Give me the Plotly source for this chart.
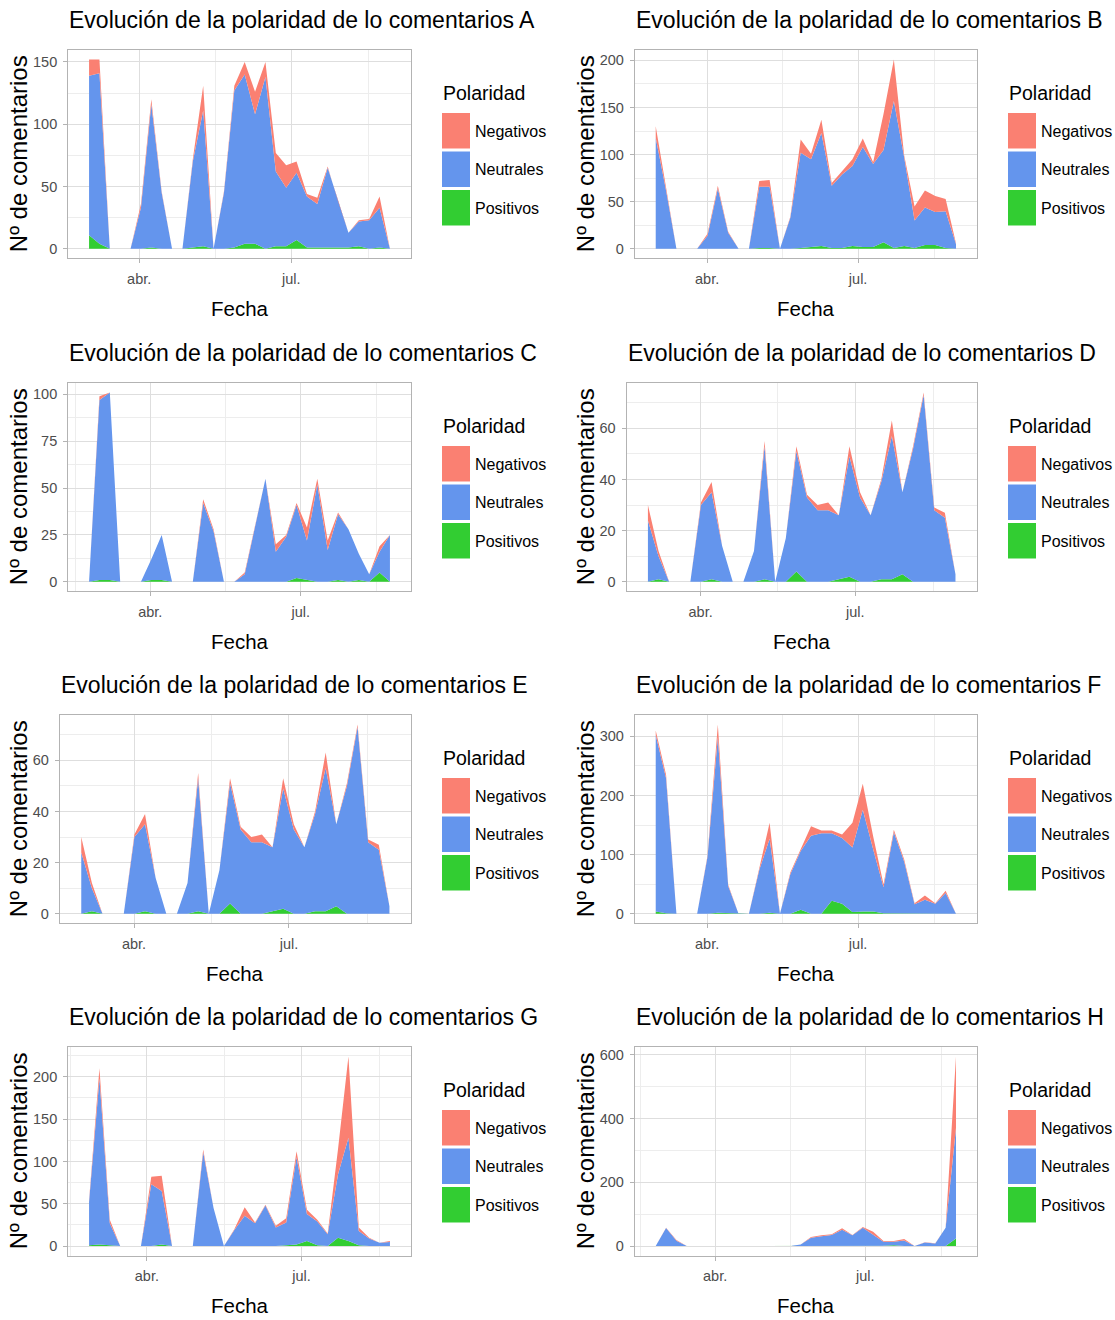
import pandas as pd
import plotly.graph_objects as go

# ---------------------------------------------------------------------------
# Datos: número de comentarios por periodo y polaridad para cada fuente (A-H)
# ---------------------------------------------------------------------------
PANELES = ["A", "B", "C", "D", "E", "F", "G", "H"]
POLARIDADES = ["Negativos", "Neutrales", "Positivos"]
N_PERIODOS = 30

# primer y último periodo de cada serie
FECHAS_INICIO = ["2017-03-02", "2017-03-01", "2017-02-23", "2017-03-01",
                 "2017-03-01", "2017-03-01", "2017-02-26", "2017-02-24"]
FECHAS_FIN = ["2017-08-29", "2017-08-29", "2017-08-24", "2017-08-29",
              "2017-08-29", "2017-08-29", "2017-08-22", "2017-08-25"]

A_neg = [13, 11, 0, 0, 0, 3, 4, 1, 0, 0, 2, 20, 0, 1, 4, 10, 18, 12, 15, 18, 9, 2, 5, 1, 0, 0, 1, 1, 9, 0]
A_neu = [128, 137, 0, 0, 0, 33, 115, 45, 0, 0, 69, 109, 0, 45, 126, 136, 104, 138, 60, 47, 54, 41, 35, 64, 37, 12, 20, 23, 32, 0]
A_pos = [11, 4, 0, 0, 0, 0, 1, 0, 0, 0, 1, 2, 0, 0, 1, 4, 4, 0, 2, 2, 7, 1, 1, 1, 1, 1, 2, 0, 1, 0]

B_neg = [12, 2, 0, 0, 0, 2, 3, 1, 0, 0, 6, 7, 0, 1, 14, 6, 14, 3, 3, 7, 9, 2, 38, 44, 2, 15, 18, 17, 13, 1]
B_neu = [118, 62, 0, 0, 0, 14, 64, 17, 0, 0, 65, 65, 0, 33, 101, 93, 120, 66, 78, 85, 106, 88, 98, 156, 94, 29, 40, 35, 39, 5]
B_pos = [0, 0, 0, 0, 0, 0, 0, 0, 0, 0, 1, 1, 0, 0, 1, 2, 3, 1, 1, 3, 2, 2, 7, 1, 3, 1, 4, 4, 1, 0]

C_neg = [0, 2, 0, 0, 0, 0, 0, 0, 0, 0, 0, 2, 1, 0, 0, 1, 1, 0, 4, 1, 1, 7, 3, 5, 1, 0, 0, 0, 3, 0]
C_neu = [0, 96, 100, 0, 0, 0, 11, 24, 0, 0, 0, 42, 27, 0, 0, 4, 29, 55, 16, 24, 39, 21, 52, 17, 35, 28, 14, 4, 11, 25]
C_pos = [0, 1, 1, 0, 0, 0, 1, 1, 0, 0, 0, 0, 0, 0, 0, 0, 0, 0, 0, 0, 2, 1, 0, 0, 1, 0, 1, 0, 5, 0]

D_neg = [6, 2, 0, 0, 0, 1, 4, 0, 0, 0, 0, 2, 0, 0, 2, 1, 2, 3, 0, 4, 2, 0, 1, 6, 0, 1, 1, 1, 2, 0]
D_neu = [24, 9, 0, 0, 0, 30, 34, 14, 0, 0, 12, 52, 0, 17, 47, 33, 28, 28, 25, 47, 33, 26, 38, 56, 32, 52, 73, 28, 25, 3]
D_pos = [0, 1, 0, 0, 0, 0, 1, 0, 0, 0, 0, 1, 0, 0, 4, 0, 0, 0, 1, 2, 0, 0, 1, 1, 3, 0, 0, 0, 0, 0]

E_neg = [6, 2, 0, 0, 0, 1, 4, 0, 0, 0, 0, 2, 0, 0, 2, 1, 2, 3, 0, 4, 2, 0, 1, 6, 0, 1, 1, 1, 2, 0]
E_neu = [24, 9, 0, 0, 0, 30, 34, 14, 0, 0, 12, 52, 0, 17, 47, 33, 28, 28, 25, 47, 33, 26, 38, 56, 32, 50, 73, 28, 25, 3]
E_pos = [0, 1, 0, 0, 0, 0, 1, 0, 0, 0, 0, 1, 0, 0, 4, 0, 0, 0, 1, 2, 0, 0, 1, 1, 3, 0, 0, 0, 0, 0]

F_neg = [8, 6, 0, 0, 0, 2, 21, 2, 0, 0, 1, 27, 0, 3, 3, 16, 5, 5, 6, 42, 44, 22, 5, 4, 4, 2, 7, 1, 4, 0]
F_neu = [298, 228, 0, 0, 0, 96, 297, 46, 0, 0, 74, 125, 0, 67, 99, 132, 136, 114, 111, 109, 172, 105, 44, 137, 88, 16, 24, 17, 35, 0]
F_pos = [4, 1, 0, 0, 0, 0, 2, 1, 0, 0, 0, 2, 0, 0, 7, 0, 0, 22, 17, 3, 4, 4, 1, 1, 0, 0, 0, 0, 0, 0]

G_neg = [2, 12, 4, 0, 0, 0, 9, 18, 0, 0, 0, 3, 0, 0, 1, 10, 1, 1, 2, 5, 7, 5, 2, 1, 30, 96, 4, 1, 0, 1]
G_neu = [51, 196, 26, 0, 0, 0, 73, 63, 0, 0, 0, 111, 45, 0, 19, 36, 27, 48, 22, 27, 103, 32, 28, 14, 75, 122, 17, 9, 4, 5]
G_pos = [1, 2, 1, 0, 0, 0, 0, 2, 0, 0, 0, 0, 0, 0, 0, 0, 0, 0, 0, 1, 2, 6, 1, 0, 10, 6, 1, 0, 0, 0]

H_neg = [0, 1, 2, 0, 0, 0, 0, 0, 0, 0, 0, 0, 0, 0, 0, 3, 3, 2, 5, 1, 2, 8, 2, 2, 4, 0, 1, 1, 0, 225]
H_neu = [0, 57, 17, 0, 0, 0, 0, 0, 0, 0, 0, 0, 0, 0, 5, 26, 31, 35, 51, 34, 58, 37, 13, 11, 18, 0, 11, 8, 58, 346]
H_pos = [0, 0, 0, 0, 0, 0, 0, 0, 0, 0, 0, 0, 0, 0, 0, 0, 0, 0, 0, 0, 0, 0, 1, 3, 0, 0, 0, 0, 0, 24]

# separación entre marcas del eje Y de cada panel
Y_DTICK = [50, 50, 25, 20, 20, 100, 50, 200]

# marcas del eje X
X_TICKS = ["2017-04-01", "2017-07-01"]
X_TICKTEXT = ["abr.", "jul."]
X_MINOR = ["2017-02-15", "2017-05-16 12:00", "2017-08-16"]

SERIES = {
    "A": (A_neg, A_neu, A_pos), "B": (B_neg, B_neu, B_pos),
    "C": (C_neg, C_neu, C_pos), "D": (D_neg, D_neu, D_pos),
    "E": (E_neg, E_neu, E_pos), "F": (F_neg, F_neu, F_pos),
    "G": (G_neg, G_neu, G_pos), "H": (H_neg, H_neu, H_pos),
}

# ---------------------------------------------------------------------------
# Estilo
# ---------------------------------------------------------------------------
W, H = 1115, 1320
COLORES = {"Negativos": "#FA8072", "Neutrales": "#6495ED", "Positivos": "#32CD32"}
FUENTE = "Liberation Sans, Arial, sans-serif"
GRIS_BORDE = "#B3B3B3"
GRIS_REJILLA = "#DEDEDE"
GRIS_MENOR = "#EDEDED"
GRIS_TEXTO = "#4D4D4D"

# geometría de la cuadrícula 4x2 (píxeles)
FILA_SUP = [50, 383, 715, 1047]
FILA_INF = [258.3, 591.3, 923.3, 1255.6]
PANEL_IZQ = [68.3, 635, 68.3, 626.7, 60, 635, 68.3, 635]
COL_DER = [410.7, 976.7]
LEYENDA_X = [442, 1008]
YTITULO_X = [18, 585]


def px(x):
    return x / W


def py(y):
    return 1 - y / H


fig = go.Figure()
anotaciones = []
formas = []

for k, letra in enumerate(PANELES):
    fila, col = divmod(k, 2)
    neg, neu, pos = SERIES[letra]
    fechas = pd.date_range(FECHAS_INICIO[k], FECHAS_FIN[k], periods=N_PERIODOS)
    sufijo = "" if k == 0 else str(k + 1)
    xa, ya = "x" + sufijo, "y" + sufijo

    # áreas apiladas: Positivos abajo, Neutrales en medio, Negativos arriba
    for nombre, valores in (("Positivos", pos), ("Neutrales", neu), ("Negativos", neg)):
        fig.add_trace(go.Scatter(
            x=fechas, y=valores, name=nombre, stackgroup="g" + letra,
            mode="lines", line=dict(width=0, color=COLORES[nombre]),
            fillcolor=COLORES[nombre], xaxis=xa, yaxis=ya, showlegend=False,
        ))

    total = [a + b + c for a, b, c in zip(neg, neu, pos)]
    ymax = max(total)
    span = fechas[-1] - fechas[0]
    x_rango = [fechas[0] - 0.069 * span, fechas[-1] + 0.069 * span]

    izq, der = PANEL_IZQ[k], COL_DER[col]
    sup, inf = FILA_SUP[fila], FILA_INF[fila]

    eje_x = dict(
        domain=[px(izq), px(der)], anchor=ya, type="date", range=x_rango,
        tickmode="array", tickvals=X_TICKS, ticktext=X_TICKTEXT,
        ticks="outside", ticklen=4, tickwidth=1, tickcolor=GRIS_BORDE,
        tickfont=dict(family=FUENTE, size=14.5, color=GRIS_TEXTO),
        ticklabelstandoff=3,
        showgrid=True, gridcolor=GRIS_REJILLA, gridwidth=1.2,
        minor=dict(tickmode="array", tickvals=X_MINOR, showgrid=True,
                   gridcolor=GRIS_MENOR, gridwidth=0.8, ticks=""),
        showline=True, mirror=True, linecolor=GRIS_BORDE, linewidth=1.3,
        zeroline=False, fixedrange=True,
    )
    eje_y = dict(
        domain=[py(inf), py(sup)], anchor=xa,
        range=[-0.05 * ymax, 1.05 * ymax],
        tickmode="linear", tick0=0, dtick=Y_DTICK[k],
        ticks="outside", ticklen=4, tickwidth=1, tickcolor=GRIS_BORDE,
        tickfont=dict(family=FUENTE, size=14.5, color=GRIS_TEXTO),
        ticklabelstandoff=3,
        showgrid=True, gridcolor=GRIS_REJILLA, gridwidth=1.2,
        minor=dict(tick0=Y_DTICK[k] / 2, dtick=Y_DTICK[k], showgrid=True,
                   gridcolor=GRIS_MENOR, gridwidth=0.8, ticks=""),
        showline=True, mirror=True, linecolor=GRIS_BORDE, linewidth=1.3,
        zeroline=False, fixedrange=True,
    )
    fig.update_layout({"xaxis" + sufijo: eje_x, "yaxis" + sufijo: eje_y})

    # título del panel
    anotaciones.append(dict(
        text="Evolución de la polaridad de lo comentarios " + letra,
        x=px(izq - 1), y=py(sup - 30), xref="paper", yref="paper",
        xanchor="left", yanchor="middle", showarrow=False,
        font=dict(family=FUENTE, size=23, color="black"),
    ))
    # título eje X
    anotaciones.append(dict(
        text="Fecha", x=px((izq + der) / 2), y=py(inf + 50),
        xref="paper", yref="paper", xanchor="center", yanchor="middle",
        showarrow=False, font=dict(family=FUENTE, size=20.5, color="black"),
    ))
    # título eje Y
    anotaciones.append(dict(
        text="Nº de comentarios", x=px(YTITULO_X[col]), y=py((sup + inf) / 2),
        xref="paper", yref="paper", xanchor="center", yanchor="middle",
        textangle=-90, showarrow=False,
        font=dict(family=FUENTE, size=24, color="black"),
    ))

    # leyenda "Polaridad"
    lx = LEYENDA_X[col]
    anotaciones.append(dict(
        text="Polaridad", x=px(lx - 1), y=py(sup + 43),
        xref="paper", yref="paper", xanchor="left", yanchor="middle",
        showarrow=False, font=dict(family=FUENTE, size=19.5, color="black"),
    ))
    for j, nombre in enumerate(POLARIDADES):
        y0 = sup + 63 + j * 38.5
        formas.append(dict(
            type="rect", xref="paper", yref="paper",
            x0=px(lx), x1=px(lx + 28), y0=py(y0), y1=py(y0 + 35.5),
            fillcolor=COLORES[nombre], line=dict(width=0),
        ))
        anotaciones.append(dict(
            text=nombre, x=px(lx + 31), y=py(y0 + 18),
            xref="paper", yref="paper", xanchor="left", yanchor="middle",
            showarrow=False, font=dict(family=FUENTE, size=16, color="black"),
        ))

fig.update_layout(
    width=W, height=H, autosize=False,
    margin=dict(l=0, r=0, t=0, b=0),
    paper_bgcolor="white", plot_bgcolor="white",
    showlegend=False, annotations=anotaciones, shapes=formas,
    font=dict(family=FUENTE),
)

fig.write_html("out.html")
